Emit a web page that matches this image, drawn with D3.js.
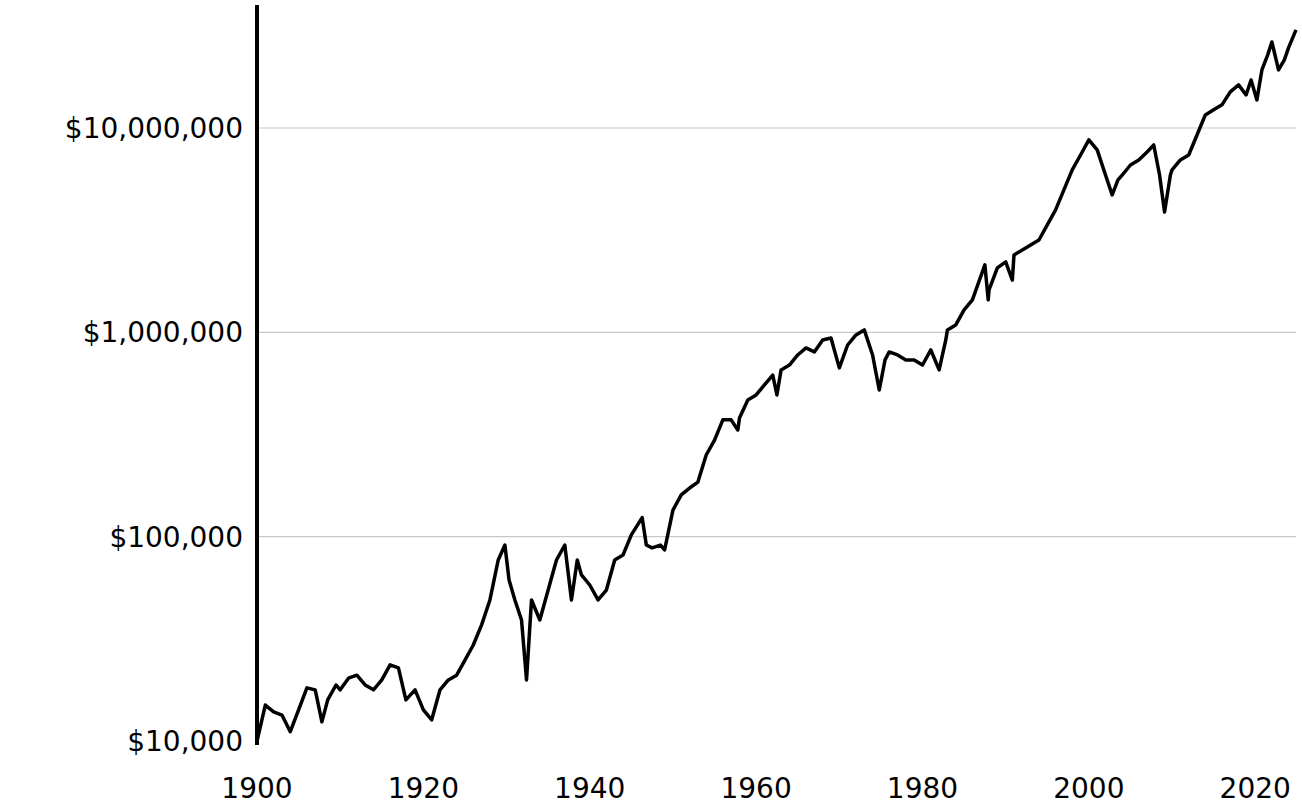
<!DOCTYPE html>
<html><head><meta charset="utf-8">
<script src="https://cdn.jsdelivr.net/npm/d3@7"></script>
<style>body{margin:0;background:#fff}</style></head>
<body><svg id="c" width="1302" height="811"></svg>
<script>
const years=[1900,1901,1902,1903,1904,1905,1906,1907,1907.8,1908.5,1909.5,1910,1911,1912,1913,1914,1915,1916,1917,1917.9,1919,1920,1921,1922,1923,1924,1925,1926,1927,1928,1929,1929.8,1930.3,1931,1931.8,1932.4,1933,1934,1935,1936,1937,1937.8,1938.5,1939,1940,1941,1942,1943,1944,1945,1946.3,1946.8,1947.5,1948.5,1949,1950,1951,1952,1953,1954,1955,1956,1957,1957.8,1958,1959,1960,1961,1962,1962.5,1963,1964,1965,1966,1967,1968,1969,1970,1971,1972,1973,1974,1974.8,1975.5,1976,1977,1978,1979,1980,1981,1982,1982.8,1983,1984,1985,1986,1987.5,1987.9,1988,1989,1990,1990.8,1991,1992,1993,1994,1995,1996,1997,1998,1999,2000,2001,2002,2002.8,2003.5,2004,2005,2006,2007,2007.8,2008.5,2009.1,2009.8,2010,2011,2012,2013,2014,2015,2016,2017,2018,2018.9,2019.5,2020.2,2020.8,2021.5,2022,2022.8,2023.5,2024,2024.9];
const values=[10000,15000,13900,13400,11100,14200,18200,17800,12400,15900,18800,17800,20300,21000,18800,17800,19900,23600,22800,15900,17800,14200,12700,17800,19900,21000,24900,29500,37000,49000,76900,91000,61400,49000,39100,19900,49000,39100,54800,76900,91000,49000,76900,65000,58000,49000,54800,76900,81300,102000,124000,91000,88100,91000,86100,135000,160000,173000,185000,251000,297000,373000,373000,333000,381000,467000,494000,553000,618000,494000,655000,692000,775000,839000,802000,918000,939000,670000,867000,971000,1028000,775000,522000,733000,802000,775000,733000,733000,692000,820000,655000,918000,1028000,1087000,1288000,1442000,2138000,1442000,1614000,2066000,2213000,1803000,2393000,2529000,2679000,2831000,3357000,3972000,4977000,6237000,7379000,8750000,7816000,5888000,4707000,5572000,5888000,6592000,6982000,7638000,8260000,5888000,3882000,5888000,6237000,6982000,7379000,9247000,11590000,12270000,12980000,15030000,16260000,14520000,17190000,13730000,19240000,22800000,26370000,19240000,21540000,24660000,30200000];
const yTicks=[10000,100000,1000000,10000000];
const xTicks=[1900,1920,1940,1960,1980,2000,2020];
const svg=d3.select("#c");
const x=d3.scaleLinear().domain([1900,2024.9]).range([257,1296]);
const y=d3.scaleLog().domain([10000,40000000]).range([741,5]);
const font="'DejaVu Sans', sans-serif";
svg.append("g").selectAll("line").data(yTicks.slice(1)).join("line")
 .attr("x1",257).attr("x2",1296).attr("y1",d=>y(d)).attr("y2",d=>y(d))
 .attr("stroke","#c8c8c8").attr("stroke-width",1.2);
const fmt=d3.format("$,");
svg.append("g").selectAll("text").data(yTicks).join("text")
 .attr("x",243).attr("y",d=>y(d)).attr("dy","0.36em").attr("text-anchor","end")
 .attr("font-family",font).attr("font-size",28).text(d=>fmt(d));
svg.append("g").selectAll("text").data(xTicks).join("text")
 .attr("x",d=>x(d)).attr("y",798).attr("text-anchor","middle")
 .attr("font-family",font).attr("font-size",28).text(d=>d);
svg.append("line").attr("x1",257).attr("x2",257).attr("y1",5).attr("y2",745).attr("stroke","#000").attr("stroke-width",4);
const pts=years.map((d,i)=>[d,values[i]]);
svg.append("path").datum(pts).attr("fill","none").attr("stroke","#000").attr("stroke-width",3.5).attr("stroke-linejoin","round")
 .attr("d",d3.line().x(d=>x(d[0])).y(d=>y(d[1])));
</script></body></html>
